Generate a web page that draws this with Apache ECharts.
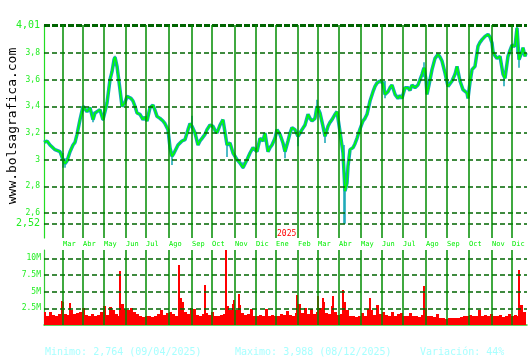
<!DOCTYPE html>
<html><head><meta charset="utf-8">
<script src="https://cdn.jsdelivr.net/npm/echarts@6/dist/echarts.min.js"></script>
<style>html,body{margin:0;padding:0;background:#fff}#c{width:530px;height:360px}</style>
</head><body><div id="c"></div>
<script>
// trading-day index of each sample, and close price
const priceIdx = [0,1,3,6,8,11,13,16,18,19,21,23,26,29,31,33,36,39,41,43,46,49,51,53,56,59,61,63,66,68,70,71,73,75,76,78,79,81,83,85,87,89,91,93,96,99,101,103,106,109,111,113,116,119,121,123,124,126,128,130,131,134,136,138,141,144,146,148,151,154,156,158,161,163,166,169,171,173,176,179,181,183,186,189,191,193,196,199,201,203,206,209,211,213,216,219,221,224,226,228,231,233,236,239,241,244,246,248,251,254,256,258,261,264,266,268,271,273,276,279,281,284,286,288,291,293,296,298,299,301,303,304,306,309,311,313,316,319,321,323,326,329,331,333,336,339,341,344,346,348,351,354,356,358,361,364,366,368,371,374,376,378,380,382,383,385,388,391,394,396,398,401,404,406,408,411,413,416,419,421,423,424,426,428,431,434,436,438,441,444,446,448,449,451,453,456,459,461,464,466,468,471,473,475,477,478,479,481,482];
const priceClose = [3.13,3.125,3.14,3.11,3.12,3.075,3.09,3.06,3.07,3.0,2.97,2.99,3.06,3.11,3.13,3.19,3.30,3.40,3.38,3.36,3.39,3.30,3.35,3.34,3.375,3.30,3.36,3.425,3.60,3.66,3.75,3.77,3.70,3.70,3.525,3.40,3.39,3.43,3.475,3.49,3.46,3.44,3.40,3.35,3.34,3.30,3.32,3.29,3.39,3.41,3.37,3.325,3.31,3.29,3.27,3.24,3.225,3.09,3.025,3.05,3.06,3.11,3.12,3.14,3.15,3.225,3.27,3.25,3.20,3.11,3.14,3.16,3.19,3.225,3.26,3.25,3.22,3.20,3.26,3.30,3.29,3.11,3.125,3.05,3.04,3.00,2.975,2.94,2.97,3.00,3.05,3.09,3.08,3.06,3.16,3.14,3.20,3.06,3.09,3.11,3.16,3.225,3.19,3.125,3.06,3.14,3.20,3.24,3.225,3.175,3.20,3.225,3.26,3.34,3.31,3.29,3.31,3.40,3.35,3.25,3.175,3.25,3.28,3.30,3.34,3.36,3.21,3.20,3.05,2.764,2.825,2.95,3.075,3.09,3.12,3.16,3.23,3.29,3.31,3.34,3.44,3.51,3.55,3.575,3.59,3.575,3.49,3.51,3.54,3.56,3.49,3.46,3.48,3.46,3.54,3.54,3.52,3.56,3.54,3.56,3.60,3.64,3.69,3.60,3.49,3.56,3.675,3.76,3.79,3.77,3.74,3.65,3.55,3.57,3.59,3.64,3.70,3.59,3.525,3.52,3.50,3.46,3.58,3.675,3.70,3.85,3.88,3.90,3.925,3.94,3.92,3.875,3.81,3.78,3.76,3.775,3.64,3.61,3.775,3.82,3.86,3.85,3.988,3.75,3.79,3.81,3.84,3.775,3.80];
// notable daily high-low ranges [index, low, high]
const hiLoSpikes = [[19,2.94,3.05],[21,2.94,3.01],[49,3.28,3.36],[59,3.29,3.34],[71,3.70,3.78],[128,2.96,3.05],[148,3.24,3.33],[183,3.02,3.12],[199,2.93,2.98],[241,3.01,3.08],[254,3.10,3.19],[273,3.36,3.45],[281,3.125,3.20],[300,2.52,3.11],[301,2.52,2.90],[341,3.46,3.59],[380,3.62,3.73],[460,3.55,3.66],[473,3.80,4.01],[475,3.69,3.80]];
// volume (millions), one value every 3 trading days
const volBase = [1.9,1.4,2.0,1.5,1.3,1.6,3.4,1.7,1.5,2.2,1.6,1.8,1.9,2.6,1.5,1.3,1.6,1.4,1.5,1.9,2.8,1.5,2.7,2.2,1.6,1.4,3.1,2.4,2.2,2.6,2.0,1.6,1.3,1.2,1.4,1.3,1.2,1.4,1.6,2.2,1.5,1.8,2.0,1.6,1.4,2.2,3.4,1.9,1.6,2.6,2.4,1.5,1.3,1.6,1.8,1.5,1.9,1.4,1.3,1.5,1.6,2.8,2.2,3.2,2.3,3.0,1.8,1.5,1.6,2.4,1.4,1.3,1.5,1.4,2.4,1.3,1.5,1.4,1.3,1.6,1.5,2.1,1.5,1.4,1.8,3.2,1.8,2.6,1.6,2.4,1.7,1.9,2.5,3.4,1.8,1.7,2.9,1.9,1.5,1.7,3.5,2.2,1.3,1.4,1.2,1.3,1.8,1.4,2.4,2.3,1.5,3.0,1.6,2.0,1.5,1.4,1.9,1.4,1.6,1.8,1.4,1.3,1.8,1.4,1.3,1.2,1.5,2.6,1.4,1.3,1.2,1.6,1.1,1.0,0.9,1.0,1.1,1.0,1.1,1.2,1.4,1.3,1.5,1.3,1.4,2.3,1.4,1.5,1.3,1.7,1.4,1.3,1.5,1.2,1.4,1.6,1.3,1.5,1.4,3.0,2.0];
const volSpikes = [[18,3.6],[26,3.3],[76,8.1],[135,9.0],[137,4.0],[161,6.0],[182,11.5],[190,3.8],[195,4.6],[253,4.5],[274,4.3],[279,4.0],[289,4.3],[299,5.3],[326,4.0],[380,5.8],[475,8.3]];
const monthIdx = [19,39,60,82,102,125,148,168,191,212,232,254,274,295,317,338,359,382,403,425,448,468];
const monthNames = ['Mar','Abr','May','Jun','Jul','Ago','Sep','Oct','Nov','Dic','Ene','Feb','Mar','Abr','May','Jun','Jul','Ago','Sep','Oct','Nov','Dic'];
const yearMark = {idx:232, label:'2025'};
const priceTicks = [2.52,2.6,2.8,3,3.2,3.4,3.6,3.8,4.01];
const volTicks = [2.5,5,7.5,10];
const footer = ['Minimo: 2,764 (09/04/2025)','Maximo: 3,988 (08/12/2025)','Variación: 44%'];
const watermark = 'www.bolsagrafica.com';

const MONO = 'DejaVu Sans Mono';
const priceData = priceIdx.map((x,i)=>[x, priceClose[i]]);
const volData = volBase.map((v,i)=>[i*3, v]);

function barRender(w){
  return function(params, api){
    const x = api.value(0), v = api.value(1);
    const p0 = api.coord([x,0]), p1 = api.coord([x,v]);
    const ww = Math.max(1, Math.round(api.size([w,0])[0]));
    const left = Math.round(p0[0]-ww/2);
    return {type:'rect', shape:{x:left, y:Math.round(p1[1]), width:ww, height:Math.round(p0[1])-Math.round(p1[1])}, style:{fill:'#ff0000'}};
  };
}

const chart = echarts.init(document.getElementById('c'), null, {renderer:'canvas'});
chart.setOption({
  animation:false,
  backgroundColor:'#ffffff',
  grid:[
    {left:44, width:483, top:25, height:213},
    {left:44, width:483, top:250, height:75}
  ],
  xAxis:[
    {type:'value', gridIndex:0, min:0, max:483, axisLine:{show:false}, axisTick:{show:false}, splitLine:{show:false},
     axisLabel:{customValues:monthIdx, formatter:v=>monthNames[monthIdx.indexOf(v)], align:'left', color:'#00ee00', fontSize:7, fontFamily:MONO, margin:3}},
    {type:'value', gridIndex:1, min:0, max:483, axisLine:{show:true, lineStyle:{color:'#33cc33', width:1.5}}, axisTick:{show:false}, splitLine:{show:false}, axisLabel:{show:false}}
  ],
  yAxis:[
    {type:'value', gridIndex:0, min:2.4125, max:4.01, axisLine:{show:true, lineStyle:{color:'#22dd22', width:1.2}}, axisTick:{show:false}, splitLine:{show:false},
     axisLabel:{customValues:priceTicks, margin:4, color:'#22ee22', fontFamily:MONO,
       formatter:v=>{const s=String(v).replace('.',','); return (v===4.01||v===2.52)?'{b|'+s+'}':'{s|'+s+'}';},
       rich:{b:{fontSize:10, color:'#22ee22', fontFamily:MONO}, s:{fontSize:8, color:'#22ee22', fontFamily:MONO}}}},
    {type:'value', gridIndex:1, min:0, max:11.25, axisLine:{show:true, lineStyle:{color:'#33cc33', width:1.2}}, axisTick:{show:false}, splitLine:{show:false},
     axisLabel:{customValues:volTicks, formatter:v=>v+'M', color:'#22ee22', fontSize:8, fontFamily:MONO, margin:3}}
  ],
  series:[
    {type:'line', xAxisIndex:0, yAxisIndex:0, data:[], silent:true, z:1,
     markLine:{symbol:['none','none'], silent:true, animation:false, label:{show:false}, emphasis:{disabled:true},
       data:[].concat(
         priceTicks.map(v=>({yAxis:v, lineStyle:{color:'#006400', type:v===4.01?[6,2]:[5,3], width:v===4.01?3:1.5}})),
         monthIdx.map(v=>({xAxis:v, lineStyle:{color:'#008c00', type:'solid', width:1.5}})))}},
    {type:'line', xAxisIndex:1, yAxisIndex:1, data:[], silent:true, z:1,
     markLine:{symbol:['none','none'], silent:true, animation:false, label:{show:false}, emphasis:{disabled:true},
       data:[].concat(
         volTicks.map(v=>({yAxis:v, lineStyle:{color:'#006400', type:[5,3], width:1.5}})),
         monthIdx.map(v=>({xAxis:v, lineStyle:{color:'#008c00', type:'solid', width:1.5}})))}},
    {type:'custom', xAxisIndex:0, yAxisIndex:0, z:2, silent:true, clip:true, data:hiLoSpikes,
     renderItem:function(params, api){
       const a = api.coord([api.value(0), api.value(1)]), b = api.coord([api.value(0), api.value(2)]);
       return {type:'line', shape:{x1:a[0], y1:a[1], x2:b[0], y2:b[1]}, style:{stroke:'#12a5b5', lineWidth:1.5}};
     }},
    {type:'line', xAxisIndex:0, yAxisIndex:0, data:priceData, symbol:'none', silent:true, z:2,
     lineStyle:{color:'#12a5b5', width:3.5}},
    {type:'line', xAxisIndex:0, yAxisIndex:0, data:priceData, symbol:'none', silent:true, z:3,
     lineStyle:{color:'#00ff00', width:1.5}},
    {type:'custom', xAxisIndex:1, yAxisIndex:1, z:2, silent:true, clip:true, data:volData, renderItem:barRender(3)},
    {type:'custom', xAxisIndex:1, yAxisIndex:1, z:3, silent:true, clip:true, data:volSpikes, renderItem:barRender(2)}
  ]
});

const yp = chart.convertToPixel({xAxisIndex:0, yAxisIndex:0}, [yearMark.idx, 2.52]);
chart.setOption({graphic:[
  {type:'text', x:yp[0]+1, y:yp[1]+10, style:{text:yearMark.label, fill:'#ff0000', font:'8px "'+MONO+'"', textVerticalAlign:'middle'}},
  {type:'text', x:13, y:126, rotation:Math.PI/2, style:{text:watermark, fill:'#000000', font:'13px "'+MONO+'"', textAlign:'center', textVerticalAlign:'middle'}},
  {type:'text', x:45, y:352, style:{text:footer[0], fill:'#a8ffff', font:'10px "'+MONO+'"', textVerticalAlign:'middle'}},
  {type:'text', x:235, y:352, style:{text:footer[1], fill:'#a8ffff', font:'10px "'+MONO+'"', textVerticalAlign:'middle'}},
  {type:'text', x:420, y:352, style:{text:footer[2], fill:'#a8ffff', font:'10px "'+MONO+'"', textVerticalAlign:'middle'}}
]});
</script></body></html>
